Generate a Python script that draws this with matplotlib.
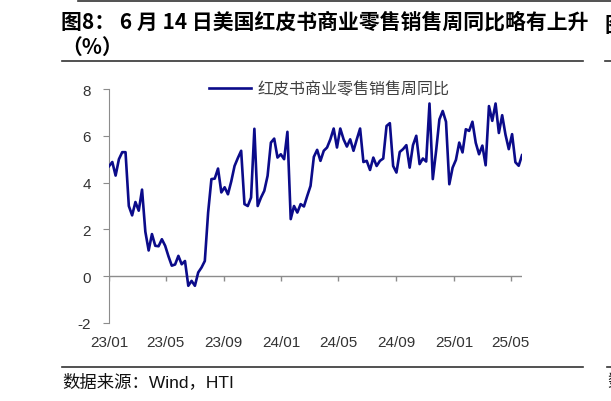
import matplotlib
matplotlib.use("Agg")
import matplotlib.pyplot as plt
import pandas as pd
from matplotlib.lines import Line2D

# --- data (weekly) ---
end_date = "2025-06-14"
redbook_yoy = [
    4.70, 4.88, 4.30, 5.00, 5.30, 5.30, 3.00, 2.60, 3.17, 2.80,
    3.70, 1.90, 1.10, 1.80, 1.30, 1.28, 1.58, 1.30, 0.85, 0.45,
    0.50, 0.87, 0.51, 0.65, -0.41, -0.20, -0.41, 0.16, 0.37, 0.65,
    2.72, 4.15, 4.17, 4.60, 3.58, 3.80, 3.50, 4.05, 4.71, 5.05,
    5.36, 3.08, 3.00, 3.36, 6.30, 3.00, 3.36, 3.65, 4.29, 5.71,
    5.88, 5.07, 5.21, 5.00, 6.17, 2.44, 3.00, 2.72, 3.08, 2.98,
    3.43, 3.86, 5.10, 5.40, 4.93, 5.36, 5.50, 5.85, 6.31, 5.50,
    6.31, 5.85, 5.54, 5.85, 5.36, 5.85, 6.31, 4.88, 4.93, 4.54,
    5.07, 4.71, 4.93, 5.03, 6.42, 6.54, 4.71, 4.43, 5.31, 5.43,
    5.60, 4.64, 5.60, 6.00, 4.79, 5.03, 4.90, 7.38, 4.15, 5.35,
    6.70, 7.06, 6.60, 3.93, 4.64, 4.97, 5.71, 5.29, 6.28, 6.21,
    6.60, 5.70, 5.21, 5.58, 4.74, 7.27, 6.64, 7.38, 6.12, 6.88,
    6.05, 5.43, 6.07, 4.87, 4.72, 5.17,
]
series_label = "红皮书商业零售销售周同比"
yticks = [-2, 0, 2, 4, 6, 8]
title_line1 = "图8： 6 月 14 日美国红皮书商业零售销售周同比略有上升"
title_line2 = "（%）"
source_text = "数据来源：Wind，HTI"

dates = pd.date_range(end=end_date, periods=len(redbook_yoy), freq="7D")
tick_dates = [dates[0] + pd.DateOffset(months=4 * k) for k in range(8)]

W, H = 611, 402
plt.rcParams["font.family"] = ["Liberation Sans", "Noto Sans CJK SC"]
plt.rcParams["axes.unicode_minus"] = False
fig = plt.figure(figsize=(W / 100, H / 100), dpi=100)


def fx(x):
    return x / W


def fy(y):
    return 1 - y / H


ax = fig.add_axes([fx(109), fy(324), fx(522) - fx(109), fy(90) - fy(324)])

ax.plot(dates, redbook_yoy, color="#0B0B8A", linewidth=1.9,
        solid_joinstyle="round", label=series_label, zorder=3)

# zero line with downward tick marks, labels at the bottom
ax.axhline(0, color="#8C8C8C", linewidth=1.0, zorder=2)
ax.vlines(tick_dates, -0.22, 0, color="#8C8C8C", linewidth=1.0)

ax.set_xlim(dates[0], dates[-1])
ax.set_ylim(-2, 8)
ax.set_yticks(yticks)
ax.set_xticks(tick_dates)
ax.set_xticklabels([d.strftime("%y/%m") for d in tick_dates])

for s in ["top", "right", "bottom"]:
    ax.spines[s].set_visible(False)
ax.spines["left"].set_color("#8C8C8C")
ax.tick_params(axis="y", length=4, color="#8C8C8C", pad=9,
               labelsize=11, labelcolor="#333333")
ax.tick_params(axis="x", length=0, pad=9, labelsize=11, labelcolor="#333333")

ax.legend(loc="center left", bbox_to_anchor=(fx(209), fy(90)),
          bbox_transform=fig.transFigure, frameon=False, borderpad=0,
          borderaxespad=0, handlelength=2.6, handletextpad=0.45,
          prop={"family": ["Noto Sans CJK SC"], "size": 11.5})
for t in ax.get_legend().get_texts():
    t.set_color("#404040")

# title, rules and source
fig.text(fx(61), fy(22), title_line1, ha="left", va="center",
         fontsize=15, fontweight="bold", family=["Noto Sans CJK SC"])
fig.text(fx(61), fy(47), title_line2, ha="left", va="center",
         fontsize=15, fontweight="bold", family=["Noto Sans CJK SC"])
fig.text(fx(604), fy(26), "图9", ha="left", va="center",
         fontsize=15, fontweight="bold", family=["Noto Sans CJK SC"])

for x0, x1, y in [(78, 611, 2), (62, 583, 62), (605, 611, 62),
                  (62, 583, 368), (607, 611, 368)]:
    fig.add_artist(Line2D([fx(x0), fx(x1)], [fy(y), fy(y)],
                          transform=fig.transFigure, color="#333333",
                          linewidth=1.2))

fig.text(fx(62), fy(382), source_text, ha="left", va="center", fontsize=12.5,
         color="#111111")
fig.text(fx(607), fy(382), "数", ha="left", va="center", fontsize=12.5,
         color="#111111")

fig.savefig("out.png", dpi=100)
